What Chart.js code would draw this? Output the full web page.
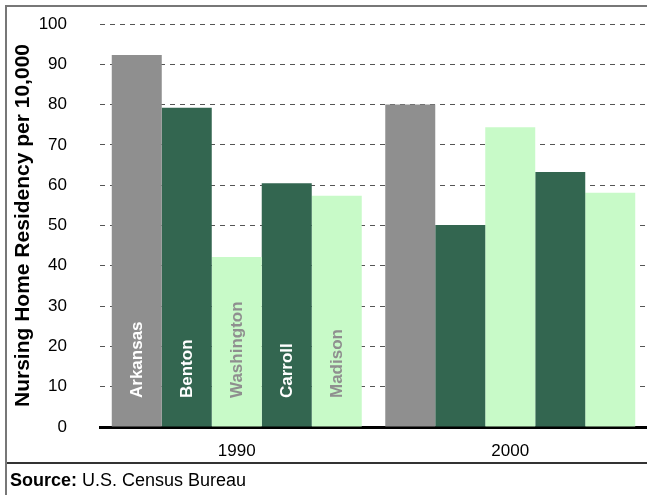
<!DOCTYPE html>
<html>
<head>
<meta charset="utf-8">
<script src="https://cdn.jsdelivr.net/npm/chart.js@4/dist/chart.umd.min.js"></script>
<style>
  html, body { margin: 0; padding: 0; background: #fff; overflow: hidden; }
  #wrap { position: relative; width: 647px; height: 495px; font-family: "Liberation Sans", Arial, Helvetica, sans-serif; }
  #frameTop { position: absolute; left: 5px; top: 5px; width: 642px; height: 2px; background: #777; }
  #frameLeft { position: absolute; left: 5px; top: 5px; width: 2px; height: 490px; background: #777; }
  #sep { position: absolute; left: 7px; top: 462px; width: 640px; height: 2px; background: #333; }
  #source { position: absolute; left: 10px; top: 470px; font-size: 18px; color: #000; white-space: nowrap; }
  canvas { position: absolute; left: 0; top: 0; }
</style>
</head>
<body>
<div id="wrap">
  <canvas id="c" width="647" height="495"></canvas>
  <div id="frameTop"></div>
  <div id="frameLeft"></div>
  <div id="sep"></div>
  <div id="source"><b>Source:</b> U.S. Census Bureau</div>
</div>
<script>
// ---- data ----
const years = ['1990', '2000'];
const counties = ['Arkansas', 'Benton', 'Washington', 'Carroll', 'Madison'];
const arkansas = [92.3, 80.0];
const benton = [79.2, 50.1];
const washington = [42.2, 74.4];
const carroll = [60.5, 63.3];
const madison = [57.4, 58.1];
const yTicks = [0, 10, 20, 30, 40, 50, 60, 70, 80, 90, 100];
const yTitle = 'Nursing Home Residency per 10,000';

const GRAY = '#8f8f8f', DARK = '#336650', LIGHT = '#c8fac8';
const seriesValues = [arkansas, benton, washington, carroll, madison];
const seriesColors = [GRAY, DARK, LIGHT, DARK, LIGHT];
const labelColors = ['#ffffff', '#ffffff', '#8f8f8f', '#ffffff', '#8f8f8f'];
const FONT = '"Liberation Sans", Arial, Helvetica, sans-serif';

const barLabels = {
  id: 'barLabels',
  afterDatasetsDraw(chart) {
    const ctx = chart.ctx;
    const yScale = chart.scales.y;
    const base = yScale.getPixelForValue(0);
    ctx.save();
    ctx.font = 'bold 17px ' + FONT;
    ctx.textAlign = 'left';
    ctx.textBaseline = 'middle';
    chart.data.datasets.forEach((ds, i) => {
      const el = chart.getDatasetMeta(i).data[0];
      ctx.save();
      ctx.translate(el.x, base - 29);
      ctx.rotate(-Math.PI / 2);
      ctx.fillStyle = labelColors[i];
      ctx.fillText(ds.label, 0, 1);
      ctx.restore();
    });
    ctx.restore();
  }
};

new Chart(document.getElementById('c'), {
  type: 'bar',
  data: {
    labels: years,
    datasets: counties.map((name, i) => ({
      label: name,
      data: seriesValues[i],
      backgroundColor: seriesColors[i],
      borderWidth: 0,
      categoryPercentage: 0.914,
      barPercentage: 1.0
    }))
  },
  options: {
    responsive: false,
    animation: false,
    devicePixelRatio: 1,
    layout: { padding: { left: 11, top: 24, right: 0, bottom: 0 } },
    plugins: { legend: { display: false }, tooltip: { enabled: false }, title: { display: false } },
    scales: {
      x: {
        grid: { display: false, drawTicks: false },
        border: { display: true, color: '#000', width: 3 },
        ticks: { color: '#000', font: { family: FONT, size: 17 }, padding: 14 },
        afterFit(scale) { scale.height = 68; }
      },
      y: {
        min: 0, max: 100,
        afterBuildTicks(scale) { scale.ticks = yTicks.map(v => ({ value: v })); },
        grid: { color: '#555', lineWidth: 1, drawTicks: false },
        border: { display: false, dash: [5, 5] },
        ticks: { color: '#000', font: { family: FONT, size: 17 }, padding: 33 },
        title: { display: true, text: yTitle, color: '#000', font: { family: FONT, size: 21, weight: 'bold' }, padding: { top: 0, bottom: 0 } },
        afterFit(scale) { scale.width = 89; scale.paddingTop = 0; scale.paddingBottom = 0; }
      }
    }
  },
  plugins: [barLabels]
});
</script>
</body>
</html>
